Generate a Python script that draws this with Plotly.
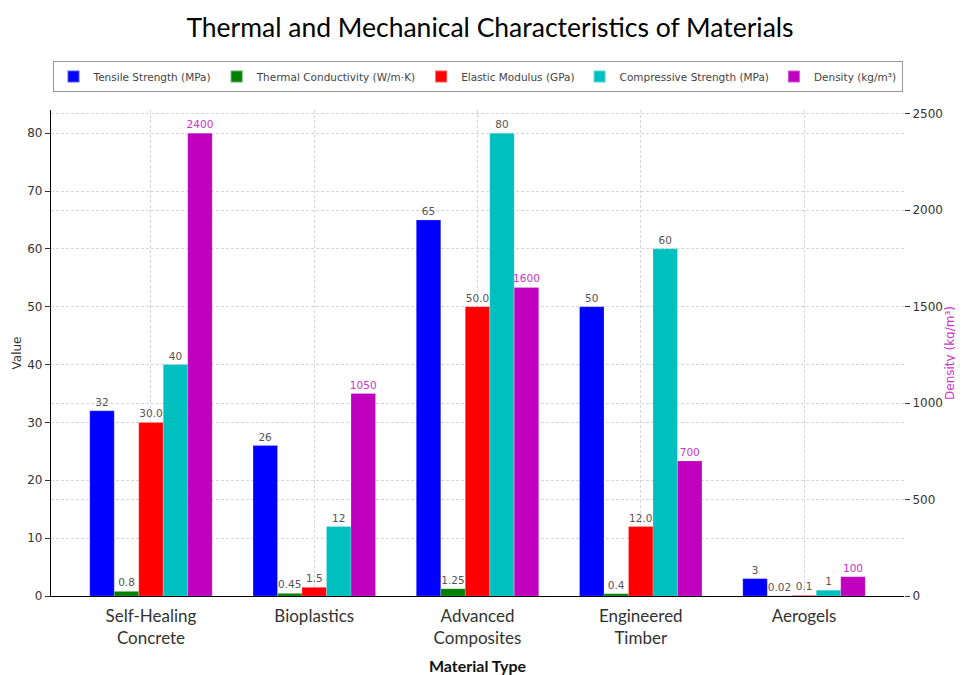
import plotly.graph_objects as go

materials = ["Self-Healing<br>Concrete", "Bioplastics", "Advanced<br>Composites", "Engineered<br>Timber", "Aerogels"]
tensile_strength = [32, 26, 65, 50, 3]
thermal_conductivity = [0.8, 0.45, 1.25, 0.4, 0.02]
elastic_modulus = [30.0, 1.5, 50.0, 12.0, 0.1]
compressive_strength = [40, 12, 80, 60, 1]
density = [2400, 1050, 1600, 700, 100]

series = [
    ("Tensile Strength (MPa)", tensile_strength, "#0000ff", "y", "{:g}"),
    ("Thermal Conductivity (W/m·K)", thermal_conductivity, "#008000", "y", "{:g}"),
    ("Elastic Modulus (GPa)", elastic_modulus, "#ff0000", "y", "{:.1f}"),
    ("Compressive Strength (MPa)", compressive_strength, "#00bfbf", "y", "{:g}"),
    ("Density (kg/m³)", density, "#bf00bf", "y2", "{:g}"),
]

bar_w = 0.15
fig = go.Figure()
for i, (name, vals, color, yax, fmt) in enumerate(series):
    label_color = "#cc33cc" if yax == "y2" else "#555555"
    fig.add_trace(go.Bar(
        x=materials, y=vals, name=name, yaxis=yax,
        width=bar_w, offset=-0.375 + i * bar_w,
        marker=dict(color=color, line=dict(color="rgba(255,255,255,0.35)", width=0.6)),
        text=[fmt.format(v) for v in vals], textposition="outside",
        constraintext="none", cliponaxis=False,
        textfont=dict(family="DejaVu Sans", size=10.5, color=label_color),
    ))

grid = dict(showgrid=True, gridcolor="#d6d6d6", griddash="3px,2px", gridwidth=1)
fig.update_layout(
    width=955, height=667,
    margin=dict(l=43, r=59, t=102, b=79, autoexpand=False),
    paper_bgcolor="white", plot_bgcolor="white",
    barmode="overlay",
    title=dict(text="Thermal and Mechanical Characteristics of Materials",
               x=0.5047, xanchor="center", y=0.971, yanchor="middle",
               font=dict(family="Lato", size=26.5, color="#000000")),
    xaxis=dict(range=[-0.6125, 4.6125], showline=True, linecolor="black", linewidth=1.2,
               ticks="", ticklabelstandoff=4, tickfont=dict(family="Lato", size=17, color="#333333"),
               title=dict(text="<b>Material Type</b>", font=dict(family="Lato", size=16, color="#111111"), standoff=14),
               automargin=False, **grid),
    yaxis=dict(range=[0, 84], dtick=10, showline=True, linecolor="black", linewidth=1.2,
               ticks="outside", ticklen=5, tickcolor="#333",
               tickfont=dict(family="DejaVu Sans", size=12, color="#333333"),
               title=dict(text="Value", font=dict(family="DejaVu Sans", size=12, color="#333333"), standoff=3),
               zeroline=False, automargin=False, **grid),
    yaxis2=dict(range=[0, 2520], dtick=500, overlaying="y", side="right", showline=False,
                ticks="outside", ticklen=5, tickcolor="#333",
                tickfont=dict(family="DejaVu Sans", size=12, color="#333333"),
                title=dict(text="Density (kg/m³)", font=dict(family="DejaVu Sans", size=12, color="#cc33cc"), standoff=3),
                zeroline=False, automargin=False, **grid),
    legend=dict(orientation="h", x=0.5, xanchor="center", y=1.1008, yanchor="top",
                bordercolor="#999999", borderwidth=1, bgcolor="white",
                font=dict(family="DejaVu Sans", size=10.5, color="#444444"),
                itemsizing="constant"),
    showlegend=True,
)
fig.write_html("out.html")
